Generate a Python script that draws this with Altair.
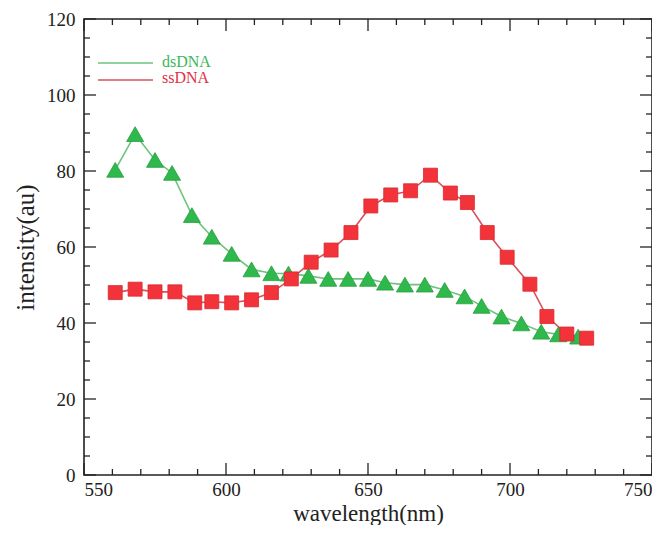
import altair as alt
import pandas as pd

# ---- data ----
ds_x = [561, 568, 575, 581, 588, 595, 602, 609, 616, 622, 629, 636, 643,
        650, 656, 663, 670, 677, 684, 690, 697, 704, 711, 717, 724]
ds_y = [80.3, 89.7, 82.9, 79.5, 68.4, 62.7, 58.2, 54.1, 53.1, 53.0, 52.4,
        51.6, 51.6, 51.6, 50.6, 50.1, 50.1, 48.7, 47.0, 44.5, 41.7, 39.9,
        37.7, 37.0, 36.4]
ss_x = [561, 568, 575, 582, 589, 595, 602, 609, 616, 623, 630, 637, 644,
        651, 658, 665, 672, 679, 685, 692, 699, 707, 713, 720, 727]
ss_y = [48.0, 48.9, 48.2, 48.2, 45.3, 45.6, 45.3, 46.1, 48.0, 51.6, 56.0,
        59.2, 63.8, 70.8, 73.7, 74.8, 78.9, 74.2, 71.7, 63.8, 57.3, 50.2,
        41.7, 37.1, 36.0]

series_names = ["dsDNA", "ssDNA"]
x_major = [550, 600, 650, 700, 750]
x_minor = [v for v in range(560, 750, 10) if v % 50 != 0]
y_major = [0, 20, 40, 60, 80, 100, 120]
y_minor = [v for v in range(5, 120, 5) if v % 20 != 0]

# ---- styling ----
W, H = 568, 456
FONT = "Liberation Serif"
line_colors = {"dsDNA": "#6cc47c", "ssDNA": "#d9505c"}
fill_colors = {"dsDNA": "#2fb84c", "ssDNA": "#f23339"}
text_colors = {"dsDNA": "#3db65a", "ssDNA": "#e0303f"}

df = pd.concat([
    pd.DataFrame({"wavelength": ds_x, "intensity": ds_y, "series": series_names[0]}),
    pd.DataFrame({"wavelength": ss_x, "intensity": ss_y, "series": series_names[1]}),
])

xscale = alt.Scale(domain=[550, 750], nice=False, zero=False)
yscale = alt.Scale(domain=[0, 120], nice=False, zero=True)

x_enc = alt.X("wavelength:Q", scale=xscale,
              axis=alt.Axis(values=x_major, format="d", ticks=False, domain=False,
                            grid=False, labelFont=FONT, labelFontSize=19,
                            labelColor="#222", labelPadding=5,
                            labelFlush=True, labelFlushOffset=0,
                            title="wavelength(nm)", titleFont=FONT,
                            titleFontSize=23, titleFontWeight="normal",
                            titleColor="#222", titleX=W / 2, titleY=45,
                            titleBaseline="alphabetic", titleAlign="center"))
y_enc = alt.Y("intensity:Q", scale=yscale,
              axis=alt.Axis(values=y_major, format="d", ticks=False, domain=False,
                            grid=False, labelFont=FONT, labelFontSize=19,
                            labelColor="#222", labelPadding=9,
                            title="intensity(au)", titleFont=FONT,
                            titleFontSize=25, titleFontWeight="normal",
                            titleColor="#222", titleX=-59, titleY=H / 2,
                            titleAngle=-90, titleAlign="center",
                            titleBaseline="middle"))

base = alt.Chart(df)

lines = base.mark_line(strokeWidth=1.6).encode(
    x=x_enc, y=y_enc,
    color=alt.Color("series:N",
                    scale=alt.Scale(domain=series_names,
                                    range=[line_colors[s] for s in series_names]),
                    legend=None),
    detail="series:N",
)

points = base.mark_point(filled=True, opacity=1, strokeWidth=0.8).encode(
    x="wavelength:Q", y="intensity:Q",
    fill=alt.Fill("series:N",
                  scale=alt.Scale(domain=series_names,
                                  range=[fill_colors[s] for s in series_names]),
                  legend=None),
    stroke=alt.Stroke("series:N",
                      scale=alt.Scale(domain=series_names,
                                      range=["#27a040", "#d82a30"]),
                      legend=None),
    shape=alt.Shape("series:N",
                    scale=alt.Scale(domain=series_names,
                                    range=["triangle-up", "square"]),
                    legend=None),
    size=alt.Size("series:N",
                  scale=alt.Scale(domain=series_names, range=[290, 196]),
                  legend=None),
)

# inward ticks on all four sides
def xticks(vals, length):
    d = alt.Chart(pd.DataFrame({"v": vals}))
    bottom = d.mark_rule(color="#222", strokeWidth=1.3).encode(
        x=alt.X("v:Q", scale=xscale), y=alt.value(H), y2=alt.value(H - length))
    top = d.mark_rule(color="#222", strokeWidth=1.3).encode(
        x=alt.X("v:Q", scale=xscale), y=alt.value(0), y2=alt.value(length))
    return [bottom, top]

def yticks(vals, length):
    d = alt.Chart(pd.DataFrame({"v": vals}))
    left = d.mark_rule(color="#222", strokeWidth=1.3).encode(
        y=alt.Y("v:Q", scale=yscale), x=alt.value(0), x2=alt.value(length))
    right = d.mark_rule(color="#222", strokeWidth=1.3).encode(
        y=alt.Y("v:Q", scale=yscale), x=alt.value(W), x2=alt.value(W - length))
    return [left, right]

tick_layers = xticks(x_major, 12) + xticks(x_minor, 6) + yticks(y_major, 12) + yticks(y_minor, 6)

# legend (top-left, inside the plot)
leg = alt.Chart(pd.DataFrame({"series": series_names}))
legend_layers = []
line_y = [44, 61]
text_y = [43, 59]
for i, s in enumerate(series_names):
    legend_layers.append(
        leg.transform_filter(alt.datum.series == s).mark_rule(
            color=line_colors[s], strokeWidth=1.6).encode(
            x=alt.value(14), x2=alt.value(69), y=alt.value(line_y[i])))
    legend_layers.append(
        leg.transform_filter(alt.datum.series == s).mark_text(
            align="left", baseline="middle", font=FONT, fontSize=16,
            color=text_colors[s]).encode(
            x=alt.value(78), y=alt.value(text_y[i]), text="series:N"))

chart = alt.layer(lines, points, *tick_layers, *legend_layers).properties(
    width=W, height=H,
    autosize=alt.AutoSizeParams(type="none"),
    padding={"left": 76, "top": 11, "right": 0, "bottom": 50},
    background="white",
).configure_view(stroke="#222", strokeWidth=1.6)

chart.save("out.html", embed_options={"renderer": "svg", "actions": False})
